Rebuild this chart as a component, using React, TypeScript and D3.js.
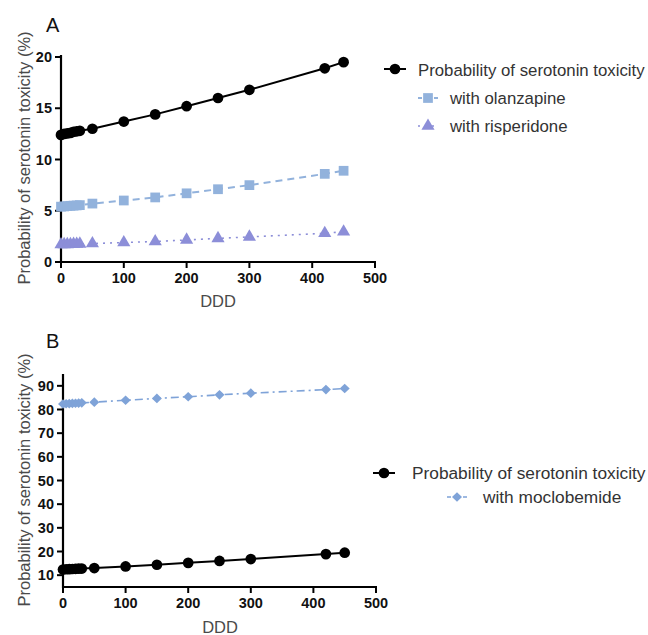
import React from "react";
import * as d3 from "d3";

const ddd = [0, 5, 10, 15, 20, 25, 30, 50, 100, 150, 200, 250, 300, 420, 450];
const baseTox = [12.4, 12.5, 12.55, 12.6, 12.7, 12.75, 12.8, 13.0, 13.7, 14.4, 15.2, 16.0, 16.8, 18.9, 19.5];
const olanzapine = [5.4, 5.42, 5.45, 5.48, 5.5, 5.52, 5.55, 5.7, 6.0, 6.3, 6.7, 7.1, 7.5, 8.6, 8.9];
const risperidone = [1.7, 1.71, 1.72, 1.73, 1.74, 1.75, 1.76, 1.8, 1.9, 2.0, 2.15, 2.3, 2.45, 2.8, 2.95];
const moclobemide = [82.3, 82.4, 82.5, 82.6, 82.65, 82.7, 82.8, 83.1, 83.9, 84.7, 85.4, 86.2, 86.9, 88.4, 88.9];
const xTicks = [0, 100, 200, 300, 400, 500];
const yTicksA = [0, 5, 10, 15, 20];
const yTicksB = [10, 20, 30, 40, 50, 60, 70, 80, 90];

const BLACK = "#000";
const OLZ = "#92b2dc";
const RIS = "#8c8ed8";
const MOC = "#7fa3d8";
const FONT = "Liberation Sans, Arial, sans-serif";

type MarkerKind = "circle" | "square" | "triangle" | "diamond";

function Marker({ kind, x, y, color }: { kind: MarkerKind; x: number; y: number; color: string }) {
  let p: string;
  if (kind === "diamond") {
    p = "M0,-4.8L5,0L0,4.8L-5,0Z";
  } else {
    const sym = kind === "circle" ? d3.symbolCircle : kind === "square" ? d3.symbolSquare : d3.symbolTriangle;
    const size = kind === "circle" ? 90 : kind === "square" ? 95 : 75;
    p = d3.symbol().type(sym).size(size)() as string;
  }
  return <path d={p} transform={`translate(${x},${y})`} fill={color} />;
}

function Series({ xs, ys, x, y, color, dash, kind, width }: any) {
  const line = d3.line<number>().x((_, i) => x(xs[i])).y((v) => y(v));
  return (
    <g>
      <path d={line(ys) as string} fill="none" stroke={color} strokeWidth={width} strokeDasharray={dash} />
      {ys.map((v: number, i: number) => (
        <Marker key={i} kind={kind} x={x(xs[i])} y={y(v)} color={color} />
      ))}
    </g>
  );
}

function Axes({ x, y, yTicks, x0, yBottom, yTop }: any) {
  return (
    <g fontFamily={FONT} fontWeight="bold" fontSize={14.5} fill="#111">
      <line x1={x0} x2={x0} y1={yTop} y2={yBottom + 1} stroke="#000" strokeWidth={2.2} />
      <line x1={x0 - 1} x2={x(500) + 1} y1={yBottom} y2={yBottom} stroke="#000" strokeWidth={2.2} />
      {xTicks.map((t) => (
        <g key={t}>
          <line x1={x(t)} x2={x(t)} y1={yBottom} y2={yBottom + 6} stroke="#000" strokeWidth={2} />
          <text x={x(t)} y={yBottom + 21} textAnchor="middle">{t}</text>
        </g>
      ))}
      {yTicks.map((t: number) => (
        <g key={t}>
          <line x1={x0 - 6} x2={x0} y1={y(t)} y2={y(t)} stroke="#000" strokeWidth={2} />
          <text x={x0 - 9} y={y(t) + 5} textAnchor="end">{t}</text>
        </g>
      ))}
    </g>
  );
}

export default function App() {
  const xA = d3.scaleLinear().domain([0, 500]).range([61, 375]);
  const yA = d3.scaleLinear().domain([0, 20]).range([262, 57]);
  const xB = d3.scaleLinear().domain([0, 500]).range([63, 376]);
  const yB = d3.scaleLinear().domain([5, 95]).range([587, 374]);

  return (
    <svg width={648} height={635} style={{ position: "absolute", left: 0, top: 0 }}>
      <rect width={648} height={635} fill="#fff" />
      {/* Panel A */}
      <text x={46} y={32} fontFamily={FONT} fontSize={20} fill="#111">A</text>
      <text transform={`translate(30,158) rotate(-90)`} textAnchor="middle" fontFamily={FONT} fontSize={16.5} fill="#4a4a4a">
        Probability of serotonin toxicity (%)
      </text>
      <Axes x={xA} y={yA} yTicks={yTicksA} x0={61} yBottom={262} yTop={55} />
      <Series xs={ddd} ys={risperidone} x={xA} y={yA} color={RIS} dash="2,5" kind="triangle" width={1.6} />
      <Series xs={ddd} ys={olanzapine} x={xA} y={yA} color={OLZ} dash="7,5" kind="square" width={2} />
      <Series xs={ddd} ys={baseTox} x={xA} y={yA} color={BLACK} kind="circle" width={2} />
      <text x={218} y={307} textAnchor="middle" fontFamily={FONT} fontSize={16.5} fill="#4a4a4a">DDD</text>

      {/* Legend A */}
      <g fontFamily={FONT} fontSize={16.8} fill="#333">
        <line x1={384} x2={406} y1={69} y2={69} stroke={BLACK} strokeWidth={2} />
        <Marker kind="circle" x={395} y={69} color={BLACK} />
        <text x={418} y={76}>Probability of serotonin toxicity</text>
        <line x1={418} x2={438} y1={98} y2={98} stroke={OLZ} strokeWidth={1.8} strokeDasharray="4,4" />
        <Marker kind="square" x={428} y={98} color={OLZ} />
        <text x={450} y={104}>with olanzapine</text>
        <line x1={418} x2={438} y1={126} y2={126} stroke={RIS} strokeWidth={1.5} strokeDasharray="2,5" />
        <Marker kind="triangle" x={428} y={126} color={RIS} />
        <text x={450} y={132}>with risperidone</text>
      </g>

      {/* Panel B */}
      <text x={46} y={348} fontFamily={FONT} fontSize={20} fill="#111">B</text>
      <text transform={`translate(30,480) rotate(-90)`} textAnchor="middle" fontFamily={FONT} fontSize={16.5} fill="#4a4a4a">
        Probability of serotonin toxicity (%)
      </text>
      <Axes x={xB} y={yB} yTicks={yTicksB} x0={63} yBottom={587} yTop={374} />
      <Series xs={ddd} ys={moclobemide} x={xB} y={yB} color={MOC} dash="8,4,2,4" kind="diamond" width={1.6} />
      <Series xs={ddd} ys={baseTox} x={xB} y={yB} color={BLACK} kind="circle" width={2} />
      <text x={220} y={633} textAnchor="middle" fontFamily={FONT} fontSize={16.5} fill="#4a4a4a">DDD</text>

      {/* Legend B */}
      <g fontFamily={FONT} fontSize={17.3} fill="#333">
        <line x1={373} x2={395} y1={473} y2={473} stroke={BLACK} strokeWidth={2} />
        <Marker kind="circle" x={384} y={473} color={BLACK} />
        <text x={412} y={479}>Probability of serotonin toxicity</text>
        <line x1={447} x2={468} y1={497} y2={497} stroke={MOC} strokeWidth={1.5} strokeDasharray="4,4" />
        <Marker kind="diamond" x={457} y={497} color={MOC} />
        <text x={483} y={503}>with moclobemide</text>
      </g>
    </svg>
  );
}
